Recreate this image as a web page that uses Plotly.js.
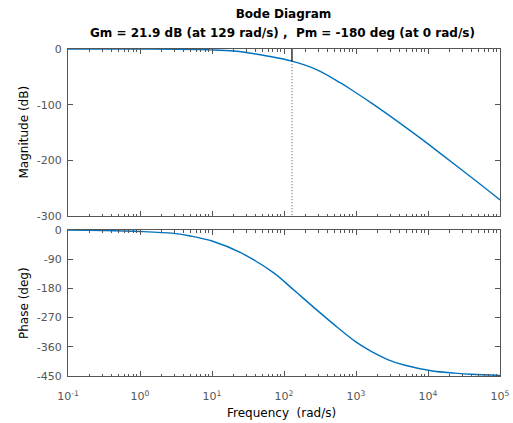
<!DOCTYPE html>
<html><head><meta charset="utf-8">
<script src="https://cdn.plot.ly/plotly-3.0.1.min.js"></script>
<style>html,body{margin:0;padding:0;background:#fff}#chart{width:513px;height:423px}</style>
</head><body><div id="chart"></div>
<script>
// Magnitude response (rad/s, dB)
const magFreq = [0.1, 0.316, 1, 3.16, 6.9, 10, 20, 30, 58, 129, 288, 610, 832, 1766, 5130, 10000, 14800, 43300, 100000];
const magDb   = [0, 0, -0.05, -0.35, -1.0, -1.6, -3.6, -6.3, -12.5, -21.9, -37.5, -61, -71.8, -100, -142.5, -170.5, -187.5, -234, -271];
// Phase response (rad/s, deg)
const phaseFreq = [0.1, 0.316, 1, 2.95, 5, 10, 25, 72, 129, 170, 234, 492, 984, 1650, 2810, 4790, 11600, 23700, 39800, 100000];
const phaseDeg  = [-0.5, -1.5, -4.5, -10.5, -18.5, -34, -70, -132, -180, -203, -230, -291, -344, -375, -400, -417, -434.5, -441, -444.5, -448];
// Margins
const gmDb = 21.9, gmFreq = 129, pmDeg = -180, pmFreq = 0;
// Ticks
const xTickVals = [0.1, 1, 10, 100, 1000, 10000, 100000];
const xTickText = ['10<sup>-1</sup>','10<sup>0</sup>','10<sup>1</sup>','10<sup>2</sup>','10<sup>3</sup>','10<sup>4</sup>','10<sup>5</sup>'];
const magTicks = [0, -100, -200, -300];
const magTickText = ['0', '-100', '-200', '-300'];
const phaseTicks = [0, -90, -180, -270, -360, -450];
const phaseTickText = ['0', '-90', '-180', '-270', '-360', '-450'];

const minorVals = [];
for (let e = -1; e < 5; e++) for (let k = 2; k <= 9; k++) minorVals.push(k * Math.pow(10, e));

const blue = '#0072BD', axc = '#555555';
const fnt = 'DejaVu Sans, Liberation Sans, sans-serif';

const traces = [
  {x: magFreq, y: magDb, xaxis: 'x', yaxis: 'y', mode: 'lines',
   line: {color: blue, width: 1.4, shape: 'spline', smoothing: 1}, hoverinfo: 'skip'},
  {x: [gmFreq, gmFreq], y: [0, -gmDb], xaxis: 'x', yaxis: 'y', mode: 'lines',
   line: {color: '#000', width: 1.2}, hoverinfo: 'skip'},
  {x: [gmFreq, gmFreq], y: [-gmDb, -300], xaxis: 'x', yaxis: 'y', mode: 'lines',
   line: {color: '#555', width: 1, dash: '1px,2px'}, hoverinfo: 'skip'},
  {x: phaseFreq, y: phaseDeg, xaxis: 'x2', yaxis: 'y2', mode: 'lines',
   line: {color: blue, width: 1.4, shape: 'spline', smoothing: 1}, hoverinfo: 'skip'}
];

const xCommon = {
  type: 'log', range: [-1, 5], tickmode: 'array', tickvals: xTickVals, ticktext: xTickText,
  ticks: 'inside', ticklen: 5, tickcolor: axc, tickwidth: 1,
  minor: {tickmode: 'array', tickvals: minorVals, ticks: 'inside', ticklen: 2.5, tickcolor: axc, showgrid: false},
  showline: true, linecolor: axc, linewidth: 1, mirror: 'ticks', showgrid: false, zeroline: false,
  tickfont: {family: fnt, size: 11, color: '#555'}
};
const yCommon = {
  ticks: 'inside', ticklen: 5, tickcolor: axc, showline: true, linecolor: axc, linewidth: 1,
  mirror: 'ticks', showgrid: false, zeroline: false, tickmode: 'array',
  tickfont: {family: fnt, size: 11, color: '#555'}, ticklabelstandoff: 3
};

const H = 423, T = 49, B = 47, PH = H - T - B;
const py = p => (H - B - p) / PH;

const layout = {
  width: 513, height: 423, margin: {l: 68, r: 13, t: T, b: B},
  paper_bgcolor: '#fff', plot_bgcolor: '#fff', showlegend: false,
  title: {text: '<b>Bode Diagram</b>', x: 0.5 + (283.5 - 256.5) / 513, xanchor: 'center',
          y: 1 - 14 / H, yanchor: 'middle', font: {family: fnt, size: 12, color: '#000'}},
  xaxis: Object.assign({}, xCommon, {domain: [0, 1], anchor: 'y', showticklabels: false, matches: 'x2'}),
  xaxis2: Object.assign({}, xCommon, {domain: [0, 1], anchor: 'y2', showticklabels: true, ticklabelstandoff: 10}),
  yaxis: Object.assign({}, yCommon, {domain: [py(216), 1], range: [-300, 0], tickvals: magTicks, ticktext: magTickText}),
  yaxis2: Object.assign({}, yCommon, {domain: [0, py(230)], range: [-450, 0], tickvals: phaseTicks, ticktext: phaseTickText}),
  annotations: [
    {text: '<b>Gm = ' + gmDb + ' dB (at ' + gmFreq + ' rad/s) ,  Pm = ' + pmDeg + ' deg (at ' + pmFreq + ' rad/s)</b>',
     xref: 'paper', yref: 'paper', x: 0.497, y: py(33), xanchor: 'center', yanchor: 'middle', showarrow: false,
     font: {family: fnt, size: 12, color: '#000'}},
    {text: 'Magnitude (dB)', textangle: -90, xref: 'paper', yref: 'paper', x: 0, xshift: -45,
     y: (py(216) + 1) / 2, xanchor: 'center', yanchor: 'middle', showarrow: false,
     font: {family: fnt, size: 12, color: '#000'}},
    {text: 'Phase (deg)', textangle: -90, xref: 'paper', yref: 'paper', x: 0, xshift: -44,
     y: py(230) / 2, xanchor: 'center', yanchor: 'middle', showarrow: false,
     font: {family: fnt, size: 12, color: '#000'}},
    {text: 'Frequency  (rad/s)', xref: 'paper', yref: 'paper', x: 0.495, y: py(412.5),
     xanchor: 'center', yanchor: 'middle', showarrow: false,
     font: {family: fnt, size: 12, color: '#000'}}
  ]
};

Plotly.newPlot('chart', traces, layout, {staticPlot: true, displayModeBar: false});
</script>
</body></html>
